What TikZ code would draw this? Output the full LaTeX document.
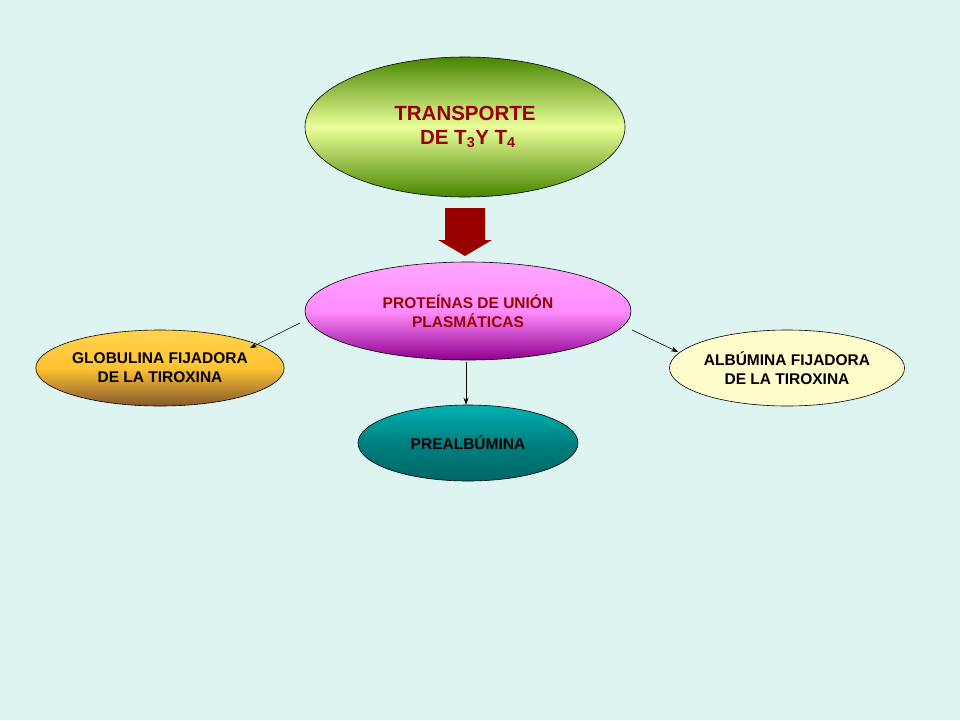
\documentclass[tikz,border=0pt]{standalone}
\usepackage{fontspec}
\setmainfont{Liberation Sans}
\usetikzlibrary{shapes.geometric,arrows.meta}
\definecolor{bg}{HTML}{DDF4F0}
\definecolor{dred}{HTML}{990000}
\definecolor{ptxt}{HTML}{990000}
\begin{document}
\begin{tikzpicture}[x=1pt,y=-1pt,
  ell/.style={ellipse,draw=black,line width=0.6pt,inner sep=0pt,font=\bfseries,align=center},
  con/.style={-{Stealth[length=7pt,width=5pt]},line width=0.6pt}]
\fill[bg] (0,0) rectangle (960,720);
\useasboundingbox (0,0) rectangle (960,720);
\node[ell,minimum width=320,minimum height=140,top color=olive!70!green!80!black,bottom color=olive!70!green!80!black,middle color=green!20!yellow!40,text=dred,font=\bfseries\fontsize{20.5}{24}\selectfont] (t) at (465,127) {TRANSPORTE\\ \ DE T\textsubscript{3}Y T\textsubscript{4}};
\node[ell,minimum width=326,minimum height=98,top color=magenta!35,bottom color=violet!60!magenta!80!black,middle color=magenta!45,text=ptxt,font=\bfseries\fontsize{15.5}{19}\selectfont] (p) at (468,311) {PROTEÍNAS DE UNIÓN\\PLASMÁTICAS};
\node[ell,minimum width=220,minimum height=76,top color=orange!50!yellow!70,bottom color=brown!70!black,middle color=orange!60!yellow!80,font=\bfseries\fontsize{15.5}{19}\selectfont] (g) at (160,368) {GLOBULINA FIJADORA\\DE LA TIROXINA};
\node[ell,minimum width=220,minimum height=76,fill=yellow!20,font=\bfseries\fontsize{15.5}{19}\selectfont] (a) at (787,368) {ALBÚMINA FIJADORA\\DE LA TIROXINA};
\node[ell,minimum width=220,minimum height=76,top color=teal!60!cyan,bottom color=teal!80!black,middle color=teal,font=\bfseries\fontsize{15.5}{19}\selectfont] (pr) at (468,443) {PREALBÚMINA};
% block arrow
\fill[dred] (445,208) -- (485,208) -- (485,240) -- (492,240) -- (465,256) -- (438,240) -- (445,240) -- cycle;
\coordinate (s1) at (300,323);
\coordinate (e1) at (250,348);
\coordinate (s2) at (632,330);
\coordinate (e2) at (678,352);
\coordinate (s3) at (466,362);
\draw[con] (s1) -- (e1);
\draw[con] (s2) -- (e2);
\draw[con] (s3) -- (pr.north -| s3);
\end{tikzpicture}
\end{document}
